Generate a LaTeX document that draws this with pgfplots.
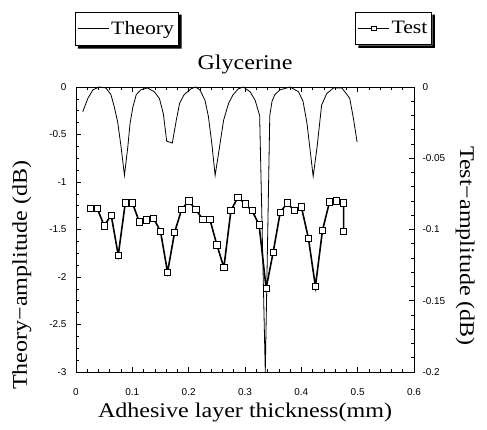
\documentclass[border=0pt]{standalone}
\usepackage{fontspec}
\setmainfont{Liberation Serif}
\newfontfamily\labelfont[FakeStretch=1.15]{Liberation Serif}
\newfontfamily\ticksans{Liberation Sans}
\usepackage{pgfplots}
\usepackage{pgfplotstable}
\pgfplotsset{compat=1.18}

\pgfplotstableread{
x y
0.012 -0.26
0.021 -0.12
0.030 -0.03
0.041 0
0.053 -0.01
0.062 -0.08
0.068 -0.21
0.074 -0.37
0.080 -0.63
0.086 -0.93
0.092 -0.63
0.096 -0.38
0.101 -0.21
0.107 -0.08
0.115 -0.03
0.127 -0.01
0.139 -0.05
0.148 -0.12
0.155 -0.28
0.161 -0.57
0.166 -0.58
0.171 -0.59
0.178 -0.35
0.184 -0.17
0.192 -0.08
0.204 -0.02
0.212 0
0.220 -0.03
0.229 -0.14
0.235 -0.31
0.241 -0.59
0.247 -0.93
0.253 -0.70
0.262 -0.35
0.271 -0.17
0.279 -0.08
0.288 -0.02
0.297 0
0.309 -0.05
0.318 -0.14
0.326 -0.30
0.336 -3.00
0.344 -0.30
0.348 -0.15
0.353 -0.08
0.362 -0.03
0.380 0
0.395 -0.05
0.403 -0.15
0.410 -0.38
0.421 -0.94
0.428 -0.63
0.436 -0.19
0.445 -0.07
0.457 -0.01
0.472 -0.01
0.486 -0.12
0.493 -0.35
0.499 -0.58
}\theory

\pgfplotstableread{
x y
0.025 -0.0851
0.0375 -0.0851
0.05 -0.0973
0.0625 -0.0900
0.075 -0.1180
0.0875 -0.0813
0.1 -0.0813
0.1125 -0.0947
0.125 -0.0933
0.1375 -0.0920
0.15 -0.1013
0.1625 -0.1300
0.175 -0.1020
0.1875 -0.0860
0.2 -0.0800
0.2125 -0.0860
0.225 -0.0927
0.2375 -0.0927
0.25 -0.1107
0.2625 -0.1267
0.275 -0.0867
0.2875 -0.0773
0.3 -0.0820
0.3125 -0.0867
0.325 -0.0967
0.3375 -0.1413
0.35 -0.1160
0.3625 -0.0880
0.375 -0.0813
0.3875 -0.0867
0.4 -0.0840
0.4125 -0.1060
0.425 -0.1400
0.4375 -0.1007
0.45 -0.0807
0.4625 -0.0800
0.475 -0.0813
0.475 -0.1013
}\test

\begin{document}
\begin{tikzpicture}
\pgfplotsset{
  common/.style={
    scale only axis, width=338bp, height=285bp,
    xmin=0, xmax=0.6,
    axis line style={line width=0.9bp},
    tick style={line width=0.6bp, black},
    major tick length=5bp, minor tick length=3bp,
    tick align=inside,
    tick label style={font=\ticksans\fontsize{10}{11}\selectfont},
    /pgf/number format/assume math mode=true,
    scaled ticks=false,
    clip=false,
  },
  legbox/.style={
    draw=black, line width=0.9bp, fill=white,
    font=\labelfont\fontsize{19}{21}\selectfont,
    inner xsep=2bp, inner ysep=7bp},
}
\begin{axis}[common, name=ax,
  ymin=-3, ymax=0,
  xtick={0,0.1,0.2,0.3,0.4,0.5,0.6},
  xticklabels={0,0.1,0.2,0.3,0.4,0.5,0.6},
  minor x tick num=4,
  ytick={-3,-2.5,-2,-1.5,-1,-0.5,0},
  yticklabels={-3,-2.5,-2,-1.5,-1,-0.5,0},
  minor y tick num=3,
  ytick pos=left,
  xticklabel style={yshift=-13bp},
  yticklabel style={xshift=-6bp},
  title={Glycerine},
  title style={font=\labelfont\fontsize{21}{22}\selectfont, at={(axis description cs:0.5,1)}, anchor=base, yshift=12bp},
  xlabel={Adhesive layer thickness(mm)},
  xlabel style={font=\labelfont\fontsize{21}{22}\selectfont, at={(axis description cs:0.5,0)}, anchor=base, yshift=-45bp},
  ylabel={Theory−amplitude (dB)},
  ylabel style={font=\labelfont\fontsize{21}{22}\selectfont, at={(axis description cs:-0.16,0.34)}, anchor=center},
  legend style={legbox, name=legth, at={(axis description cs:-0.003,1.263)}, anchor=north west},
  legend image code/.code={\draw[#1] (0bp,0bp) -- (31bp,0bp);},
]
\addplot[black, line width=0.8bp, mark=none] table {\theory};
\addlegendentry{Theory}
\end{axis}
\begin{axis}[common,
  ymin=-0.2, ymax=0,
  axis x line=none,
  axis y line*=right,
  ytick={-0.2,-0.15,-0.1,-0.05,0},
  yticklabels={-0.2,-0.15,-0.1,-0.05,0},
  minor y tick num=4,
  yticklabel style={xshift=5bp},
  ylabel={Test−amplitude (dB)},
  ylabel style={font=\labelfont\fontsize{21}{22}\selectfont, at={(axis description cs:1.151,0.442)}, anchor=center, rotate=180},
  legend style={legbox, name=legte, at={(axis description cs:1.053,1.263)}, anchor=north east},
  legend image code/.code={\draw[mark repeat=2,mark phase=2,#1] plot coordinates {(0bp,0bp) (15.5bp,0bp) (31bp,0bp)};},
  legend image post style={line width=0.6bp, mark size=2.2bp},
]
\addplot[black, line width=1.6bp, mark=square*, mark size=3.2bp,
  mark options={fill=white, draw=black, line width=0.6bp}] table {\test};
\addlegendentry{Test}
\end{axis}
\foreach \n in {legth,legte}{
  \fill[black] ([xshift=0.45bp]\n.south west) ++(2.5bp,-0.45bp) -- ++(0,-2.6bp)
    -- ([xshift=3bp,yshift=-3bp]\n.south east) -- ([xshift=3bp,yshift=-2.5bp]\n.north east)
    -- ([xshift=0.45bp,yshift=-2.5bp]\n.north east) -- ([xshift=0.45bp,yshift=-0.45bp]\n.south east) -- cycle;
}
\pgfresetboundingbox
\path (ax.south west) ++(-76bp,-58bp) rectangle ++(487bp,430bp);
\end{tikzpicture}
\end{document}
